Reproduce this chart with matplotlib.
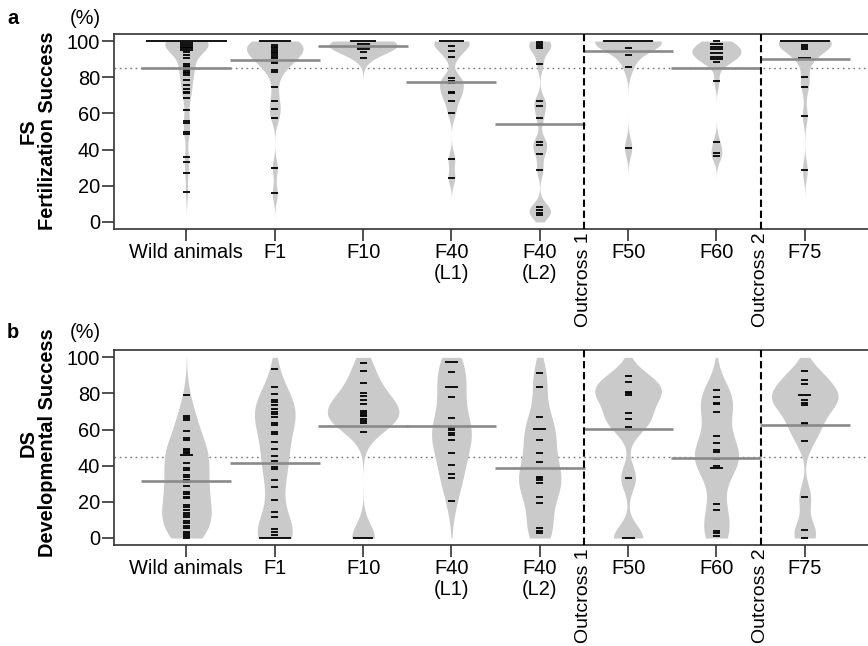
import numpy as np
import matplotlib
matplotlib.use("Agg")
import matplotlib.pyplot as plt
from collections import Counter

plt.rcParams['font.family'] = ['Liberation Sans', 'DejaVu Sans']

# ---------------- data ----------------
groups = ["Wild animals", "F1", "F10", "F40\n(L1)", "F40\n(L2)", "F50", "F60", "F75"]
outcross_labels = ["Outcross 1", "Outcross 2"]
outcross_pos = [5.5, 7.5]

fs_wild = [100]*14 + [98.7, 98.7, 97.8, 97.8, 96.9, 96.9, 96, 96, 95, 95, 94.1, 92.3, 90.4,
                      87.1, 86.4, 85.8, 84, 83, 82.1, 81.2, 78.5, 75.7, 73.3, 72, 71.1, 68.3,
                      61.9, 56, 54.9, 49.5, 48.6, 36.1, 33, 27.3, 16.4]
fs_f1 = [100]*5 + [97.8, 96.9, 96, 95, 94.1, 93.2, 92.3, 91.3, 90.4, 88.6, 87.7, 84, 83,
                   74.8, 66.9, 62.4, 57.3, 30, 15.8]
fs_f10 = [100]*4 + [98.3, 98.3, 96.9, 96.9, 95.4, 95.4, 94.1, 90.4]
fs_f40l1 = [100]*4 + [97.4, 94.6, 91.3, 79.4, 78.1, 76.6, 72, 71.1, 66.9, 60.4, 34.8, 24.5]
fs_f40l2 = [99.6, 98.3, 97.2, 96, 87.1, 66.9, 64.1, 57.3, 44.4, 42.5, 37.6, 28.7,
            8.1, 6.6, 5.2, 3.7]
fs_f50 = [100]*8 + [96.3, 92.3, 85.8, 41.1]
fs_f60 = [100, 98.3, 98.3, 96.9, 96.9, 95.4, 95.4, 93.2, 93.2, 91.3, 91.3, 89.9, 89.9,
          88.6, 77.9, 44.4, 38.3, 36.6]
fs_f75 = [100]*8 + [97.8, 96.5, 95.4, 90.4, 90.4, 80.3, 74.4, 58.7, 28.7]

ds_wild = [79, 67.6, 66.5, 65.2, 59.3, 55.1, 54.1, 49.5, 48.6, 47.7, 46.8, 45.9, 45.9, 41.6,
           38.5, 37.6, 34.8, 33.9, 32, 31.1, 28.7, 25.6, 24.3, 22.8, 21.9, 18.2, 17.3, 15.5,
           13.6, 12.7, 11.8, 9.6, 8.1, 6.6, 5.3, 3.5, 2.2, 1.1, 0]
ds_f1 = [93.4, 83.6, 79.6, 76.6, 75.3, 73.5, 71.6, 69.8, 68.9, 67, 63.7, 62.4, 58.7, 57.5,
         53.2, 49, 45.3, 42.7, 39.4, 38.1, 32, 28.3, 21, 14.5, 11.8, 4.8, 3.5, 1.7] + [0]*5
ds_f10 = [96.9, 92.4, 86, 80.5, 78.5, 76.6, 74.4, 70.2, 69.2, 68.3, 67.4, 66.1, 64.8, 63.7,
          58.7] + [0]*3
ds_f40l1 = [97.4, 97.4, 91.9, 83.4, 83.4, 78.1, 66.5, 61, 59.7, 58.2, 56.9, 54.5, 47.3,
            40.3, 35.4, 33, 20.6]
ds_f40l2 = [91.3, 83.6, 67, 60.2, 60.2, 54.1, 47.1, 42.2, 33.9, 33, 32, 30.6, 22.8, 19.5,
            5.3, 4.1, 2.9]
ds_f50 = [89.5, 86.4, 80.8, 80, 79.2, 69.2, 66.1, 61.5, 33.3, 0, 0]
ds_f60 = [81.8, 78.1, 74.8, 73.9, 69.8, 56.4, 52.7, 48.6, 47.7, 43.5, 39.8, 39, 39,
          18.8, 15.5, 3.9, 2.6, 1.3]
ds_f75 = [92.4, 87.7, 85.5, 79.4, 79.4, 76.2, 74.8, 73.5, 63.7, 63, 53.8, 22.5, 4.4, 0]

fs_means = [85.3, 89.7, 97.2, 77.5, 54.1, 94.5, 84.9, 90.1]
ds_means = [31.5, 41.6, 61.9, 62.0, 38.9, 60.4, 44.0, 62.3]
fs_overall = 84.9
ds_overall = 44.9

fs_data = [fs_wild, fs_f1, fs_f10, fs_f40l1, fs_f40l2, fs_f50, fs_f60, fs_f75]
ds_data = [ds_wild, ds_f1, ds_f10, ds_f40l1, ds_f40l2, ds_f50, ds_f60, ds_f75]

# ---------------- style ----------------
W, H = 868, 646
FILL = '#cacaca'
MEANC = '#8a8a8a'
FS_BW = [5, 4.5, 4, 4, 4, 5, 4, 5]
DS_BW = [9, 10, 8, 11, 10, 7, 10, 7]
FS_WIDTH = [0.49, 0.64, 0.77, 0.40, 0.25, 0.755, 0.555, 0.60]
DS_WIDTH = [0.56, 0.46, 0.81, 0.45, 0.48, 0.755, 0.50, 0.755]
FSZ = 14.4


def kde(vals, bw, lo=0, hi=100):
    v = np.asarray(vals, float)
    a = max(lo, v.min() - 3 * bw)
    b = min(hi, v.max() + 3 * bw)
    g = np.linspace(a, b, 400)
    d = np.exp(-0.5 * ((g[:, None] - v[None, :]) / bw) ** 2).sum(1) / (len(v) * bw * np.sqrt(2 * np.pi))
    return g, d


def draw_panel(ax, data, bws, widths, means, overall):
    ax.axhline(overall, color='#777777', lw=1.0, dashes=(1.2, 2.6), zorder=1)
    for i, vals in enumerate(data):
        x = i + 1
        g, d = kde(vals, bws[i])
        hw = d / d.max() * widths[i] / 2
        ax.fill_betweenx(g, x - hw, x + hw, color=FILL, lw=0, zorder=2)
        cnt = Counter(vals)
        for v, n in cnt.items():
            L = min(0.079 + 0.07 * (n - 1), 0.92)
            ax.plot([x - L / 2, x + L / 2], [v, v], color='black', lw=1.3,
                    solid_capstyle='butt', zorder=4)
        ax.plot([x - 0.51, x + 0.51], [means[i], means[i]], color=MEANC, lw=1.9,
                solid_capstyle='butt', zorder=5)
    for p in outcross_pos:
        ax.axvline(p, color='black', lw=1.5, dashes=(3.5, 1.8), zorder=6)
    ax.set_xlim(0.18, 8.82)
    ax.set_ylim(-4, 104)
    ax.set_yticks([0, 20, 40, 60, 80, 100])
    ax.set_xticks(range(1, 9))
    ax.set_xticklabels(groups, linespacing=1.15)
    ax.tick_params(axis='both', direction='out', length=8.5, width=1.2,
                   labelsize=FSZ, pad=1.5, color='#333333')
    for s in ['left', 'top', 'bottom']:
        ax.spines[s].set_linewidth(1.2)
        ax.spines[s].set_color('#333333')
    ax.spines['right'].set_visible(False)
    for lab, p in zip(outcross_labels, outcross_pos):
        ax.annotate(lab, xy=(p, 0), xycoords=('data', 'axes fraction'),
                    xytext=(0, -2.5), textcoords='offset points', rotation=90,
                    ha='center', va='top', fontsize=14)


fig = plt.figure(figsize=(W / 100, H / 100), dpi=100)

def ax_rect(top_px, bot_px, left_px=114, right_px=877.2):
    return [left_px / W, 1 - bot_px / H, (right_px - left_px) / W, (bot_px - top_px) / H]

ax1 = fig.add_axes(ax_rect(33.8, 229.2))
ax2 = fig.add_axes(ax_rect(350.1, 545.2))
draw_panel(ax1, fs_data, FS_BW, FS_WIDTH, fs_means, fs_overall)
draw_panel(ax2, ds_data, DS_BW, DS_WIDTH, ds_means, ds_overall)

def ftext(x, y, s, **kw):
    fig.text(x / W, 1 - y / H, s, fontsize=FSZ, **kw)

ftext(13, 18, 'a', fontweight='bold', ha='center', va='center')
ftext(85, 18, '(%)', ha='center', va='center')
ftext(13, 333, 'b', fontweight='bold', ha='center', va='center')
ftext(85, 333, '(%)', ha='center', va='center')
ftext(38, 131, 'FS\nFertilization Success', fontweight='bold', rotation=90,
      ha='center', va='center', multialignment='center', linespacing=1.03)
ftext(38, 443, 'DS\nDevelopmental Success', fontweight='bold', rotation=90,
      ha='center', va='center', multialignment='center', linespacing=1.03)

fig.savefig('out.png', dpi=100)
